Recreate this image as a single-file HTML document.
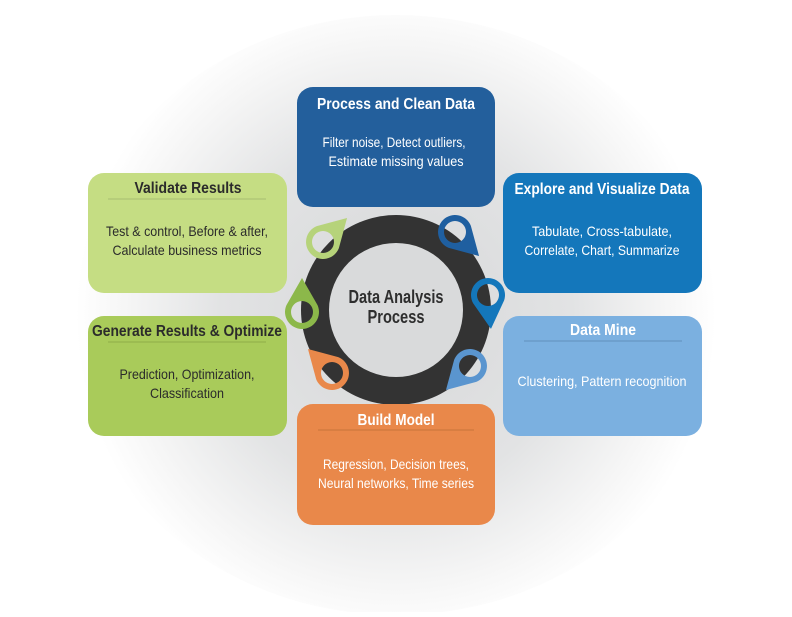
<!DOCTYPE html>
<html><head><meta charset="utf-8"><style>
html,body{margin:0;padding:0;background:#fff}
svg text{font-family:"Liberation Sans Narrow","Liberation Sans",sans-serif}
</style></head><body>
<svg width="792" height="612" viewBox="0 0 792 612" xmlns="http://www.w3.org/2000/svg">
<defs>
<radialGradient id="bg" cx="396" cy="315" r="320" gradientUnits="userSpaceOnUse">
<stop offset="0" stop-color="#d6d7d8"/><stop offset="0.55" stop-color="#e2e3e4"/><stop offset="0.85" stop-color="#f6f6f6"/><stop offset="1" stop-color="#fff"/>
</radialGradient>
<path id="pin" fill-rule="evenodd" d="M-15.6,-6.8 A17,17 0 1 0 15.6,-6.8 L0,-34 Z M-11,0 A11,11 0 1 0 11,0 A11,11 0 1 0 -11,0 Z"/>
</defs>
<rect width="792" height="612" fill="#fff"/>
<ellipse cx="396" cy="315" rx="330" ry="300" fill="url(#bg)"/>
<circle cx="396" cy="310" r="95" fill="#333333"/>
<circle cx="396" cy="310" r="67" fill="#d9dadb"/>
<text x="396" y="303" text-anchor="middle" font-size="18" font-weight="bold" fill="#2e2e2e" textLength="95" lengthAdjust="spacingAndGlyphs">Data Analysis</text>
<text x="396" y="323" text-anchor="middle" font-size="18" font-weight="bold" fill="#2e2e2e" textLength="57" lengthAdjust="spacingAndGlyphs">Process</text>
<use href="#pin" transform="translate(323,242) rotate(45)" fill="#b6d37a"/>
<use href="#pin" transform="translate(302,312) rotate(0)" fill="#8cb84a"/>
<use href="#pin" transform="translate(332,373) rotate(-45)" fill="#e9884a"/>
<use href="#pin" transform="translate(455,232) rotate(135)" fill="#1f5fa0"/>
<use href="#pin" transform="translate(488,295) rotate(175)" fill="#1477bb"/>
<use href="#pin" transform="translate(470,366) rotate(225)" fill="#5a95cf"/>

<rect x="297" y="87" width="198" height="120" rx="16" fill="#235f9c"/>
<text x="396" y="109" text-anchor="middle" font-size="16" font-weight="bold" fill="#fff" textLength="158" lengthAdjust="spacingAndGlyphs">Process and Clean Data</text>
<text x="394" y="147" text-anchor="middle" font-size="14" fill="#fff" textLength="143" lengthAdjust="spacingAndGlyphs">Filter noise, Detect outliers,</text>
<text x="396" y="166" text-anchor="middle" font-size="14" fill="#fff" textLength="135" lengthAdjust="spacingAndGlyphs">Estimate missing values</text>

<rect x="503" y="173" width="199" height="120" rx="16" fill="#1477bb"/>
<text x="602" y="194" text-anchor="middle" font-size="16" font-weight="bold" fill="#fff" textLength="175" lengthAdjust="spacingAndGlyphs">Explore and Visualize Data</text>
<text x="602" y="236" text-anchor="middle" font-size="14" fill="#fff" textLength="140" lengthAdjust="spacingAndGlyphs">Tabulate, Cross-tabulate,</text>
<text x="602" y="255" text-anchor="middle" font-size="14" fill="#fff" textLength="155" lengthAdjust="spacingAndGlyphs">Correlate, Chart, Summarize</text>

<rect x="503" y="316" width="199" height="120" rx="16" fill="#7bb0e0"/>
<text x="603" y="335" text-anchor="middle" font-size="16" font-weight="bold" fill="#fff" textLength="66" lengthAdjust="spacingAndGlyphs">Data Mine</text>
<line x1="524" y1="341" x2="682" y2="341" stroke="#6a9bc8" stroke-width="1.5"/>
<text x="602" y="386" text-anchor="middle" font-size="14" fill="#fff" textLength="169" lengthAdjust="spacingAndGlyphs">Clustering, Pattern recognition</text>

<rect x="297" y="404" width="198" height="121" rx="16" fill="#e9884a"/>
<text x="396" y="425" text-anchor="middle" font-size="16" font-weight="bold" fill="#fff" textLength="77" lengthAdjust="spacingAndGlyphs">Build Model</text>
<line x1="318" y1="430" x2="474" y2="430" stroke="#d27a40" stroke-width="1.5"/>
<text x="396" y="469" text-anchor="middle" font-size="14" fill="#fff" textLength="146" lengthAdjust="spacingAndGlyphs">Regression, Decision trees,</text>
<text x="396" y="488" text-anchor="middle" font-size="14" fill="#fff" textLength="156" lengthAdjust="spacingAndGlyphs">Neural networks, Time series</text>

<rect x="88" y="316" width="199" height="120" rx="16" fill="#a9cb5a"/>
<text x="187" y="336" text-anchor="middle" font-size="16" font-weight="bold" fill="#2b2b2b" textLength="190" lengthAdjust="spacingAndGlyphs">Generate Results &amp; Optimize</text>
<line x1="108" y1="342" x2="266" y2="342" stroke="#97b84e" stroke-width="1.5"/>
<text x="187" y="379" text-anchor="middle" font-size="14" fill="#2b2b2b" textLength="135" lengthAdjust="spacingAndGlyphs">Prediction, Optimization,</text>
<text x="187" y="398" text-anchor="middle" font-size="14" fill="#2b2b2b" textLength="74" lengthAdjust="spacingAndGlyphs">Classification</text>

<rect x="88" y="173" width="199" height="120" rx="16" fill="#c5dd83"/>
<text x="188" y="193" text-anchor="middle" font-size="16" font-weight="bold" fill="#2b2b2b" textLength="107" lengthAdjust="spacingAndGlyphs">Validate Results</text>
<line x1="108" y1="199" x2="266" y2="199" stroke="#b2c878" stroke-width="1.5"/>
<text x="187" y="236" text-anchor="middle" font-size="14" fill="#2b2b2b" textLength="162" lengthAdjust="spacingAndGlyphs">Test &amp; control, Before &amp; after,</text>
<text x="187" y="255" text-anchor="middle" font-size="14" fill="#2b2b2b" textLength="149" lengthAdjust="spacingAndGlyphs">Calculate business metrics</text>
</svg>
</body></html>
